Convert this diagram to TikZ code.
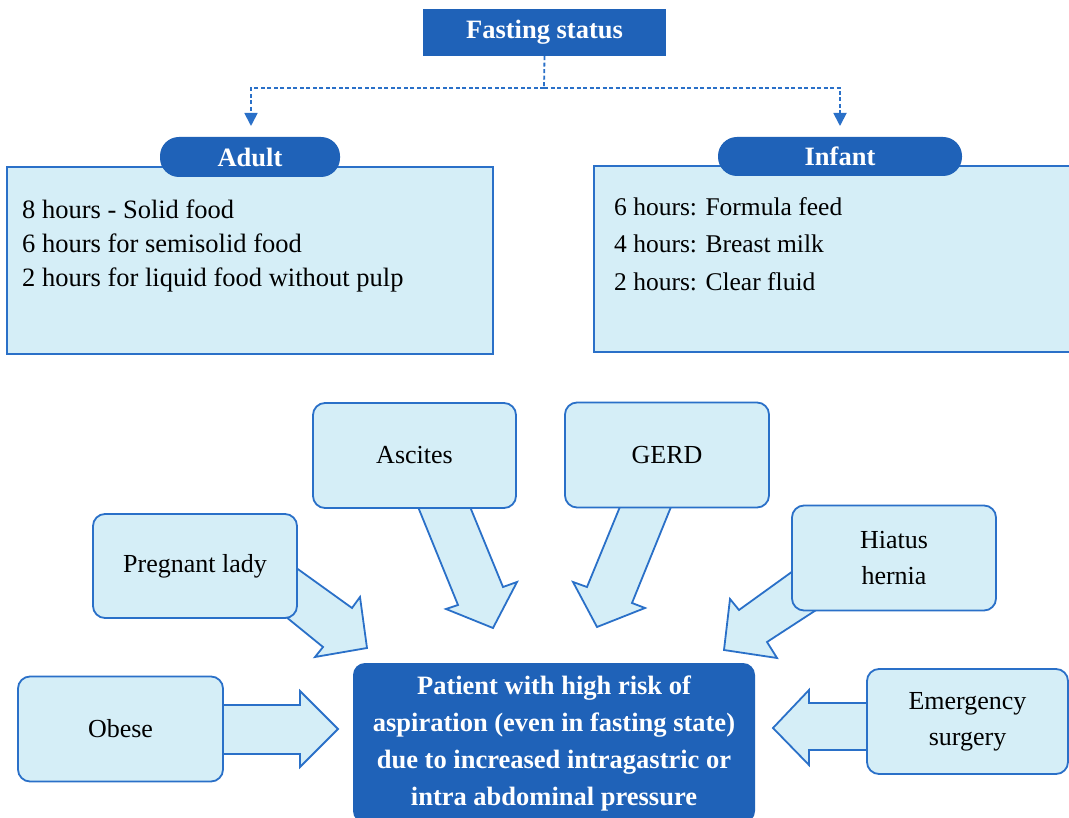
\documentclass[tikz,border=0pt]{standalone}
\usepackage{fontspec}
\setmainfont{Liberation Serif}
\usetikzlibrary{arrows.meta}
\definecolor{dblue}{RGB}{31,98,184}
\definecolor{lblue}{RGB}{213,238,247}
\definecolor{bline}{RGB}{42,112,200}
\tikzset{
  darkbox/.style={fill=dblue, draw=none, text=white, inner sep=0pt, font=\bfseries\fontsize{26.5}{32}\selectfont},
  pill/.style={fill=dblue, draw=none, text=white, inner sep=0pt, rounded corners=19pt, font=\bfseries\fontsize{26.5}{30}\selectfont},
  infobox/.style={fill=lblue, draw=bline, line width=1.8pt},
  infotext/.style={anchor=north west, inner sep=0pt, align=left},
  causebox/.style={fill=lblue, draw=bline, line width=1.8pt, rounded corners=12pt, inner sep=0pt, align=center, font=\fontsize{26}{36}\selectfont},
  blockarrow/.style={fill=lblue, draw=bline, line width=1.8pt, line join=miter},
  dashlink/.style={draw=bline, line width=1.8pt, dash pattern=on 4pt off 2.5pt},
}
\begin{document}
\begin{tikzpicture}[x=1pt,y=-1pt]
\useasboundingbox (0,0) rectangle (1069,818);
\fill[white] (0,0) rectangle (1069,818);

% top: fasting status
\node[darkbox, minimum width=243pt, minimum height=47pt] (fs) at (544.5,32.5) {Fasting status};
\coordinate (j) at (544,88);
\coordinate (adulttip) at (251,126);
\coordinate (infanttip) at (840,126);
\draw[dashlink] (fs.south) -- (j);
\draw[dashlink, -{Triangle[length=13pt,width=13pt]}] (j) -| (adulttip);
\draw[dashlink, -{Triangle[length=13pt,width=13pt]}] (j) -| (infanttip);

% adult
\node[infobox, minimum width=486pt, minimum height=187pt, inner sep=0pt] (adultbox) at (250,260.5) {};
\node[pill, minimum width=180pt, minimum height=40pt] (adult) at (250,157) {Adult};
\node[infotext, font=\fontsize{26.5}{34}\selectfont] (adulttext) at (22,200)
  {8 hours - Solid food\\6 hours for semisolid food\\2 hours for liquid food without pulp};

% infant
\node[infobox, minimum width=476pt, minimum height=186pt, inner sep=0pt] (infantbox) at (832,259) {};
\node[pill, minimum width=244pt, minimum height=39pt] (infant) at (840,156.5) {Infant};
\node[infotext, font=\fontsize{25.5}{37.5}\selectfont] (infanttext) at (614,197)
  {6 hours: Formula feed\\4 hours: Breast milk\\2 hours: Clear fluid};

% block arrows (drawn under the boxes)
\draw[blockarrow] (223,705) -- (300,705) -- (300,691) -- (338,729) -- (300,767) -- (300,754) -- (223,754);
\draw[blockarrow] (867,703) -- (809,703) -- (809,690) -- (773,728) -- (809,765) -- (809,750) -- (867,750);
\draw[blockarrow] (800,566) -- (739,610) -- (730,599) -- (724,650) -- (777,658) -- (767,642) -- (830,601);
\draw[blockarrow] (288,562) -- (352,608) -- (360,597) -- (367,648) -- (315,657) -- (323,647) -- (280,612);
\draw[blockarrow] (414,497) -- (458,605) -- (446,609) -- (493,628) -- (517,582) -- (503,587) -- (466,497);
\draw[blockarrow] (624,497) -- (587,587) -- (573,582) -- (597,627) -- (645,608) -- (632,603) -- (675,497);

% cause boxes
\node[causebox, minimum width=203pt, minimum height=105pt] (ascites) at (414.5,455.5) {Ascites};
\node[causebox, minimum width=204pt, minimum height=105pt] (gerd) at (667,455) {GERD};
\node[causebox, minimum width=204pt, minimum height=104pt] (pregnant) at (195,566) {Pregnant lady};
\node[causebox, minimum width=204pt, minimum height=105pt] (hiatus) at (894,558) {Hiatus\\hernia};
\node[causebox, minimum width=205pt, minimum height=105pt] (obese) at (120.5,729) {Obese};
\node[causebox, minimum width=201pt, minimum height=105pt] (emergency) at (967.5,721.5) {Emergency\\surgery};

% central box
\node[darkbox, rounded corners=12pt, minimum width=402pt, minimum height=160pt, align=center,
      font=\bfseries\fontsize{26.5}{37}\selectfont] (patient) at (554,743)
  {Patient with high risk of\\aspiration (even in fasting state)\\due to increased intragastric or\\intra abdominal pressure};
\end{tikzpicture}
\end{document}
